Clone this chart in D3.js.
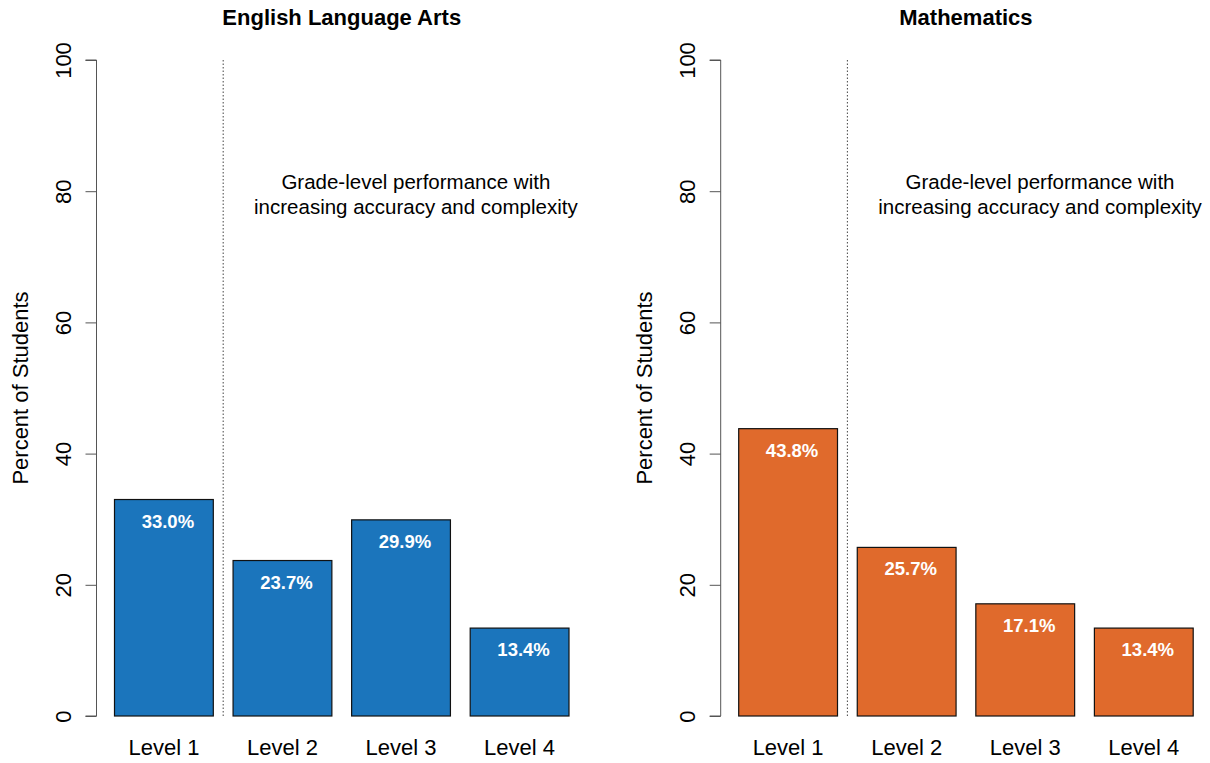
<!DOCTYPE html>
<html>
<head>
<meta charset="utf-8">
<script src="https://cdn.jsdelivr.net/npm/d3@7"></script>
<style>
  html, body { margin: 0; padding: 0; background: #fff; }
  svg { display: block; font-family: "Liberation Sans", Arial, sans-serif; }
</style>
</head>
<body>
<svg id="chart" width="1210" height="763"></svg>
<script>
// Performance level distribution by subject
const levels = ["Level 1", "Level 2", "Level 3", "Level 4"];
const elaValues = [33.0, 23.7, 29.9, 13.4];
const mathValues = [43.8, 25.7, 17.1, 13.4];
const subjects = ["English Language Arts", "Mathematics"];
const yTicks = [0, 20, 40, 60, 80, 100];
const noteLines = ["Grade-level performance with", "increasing accuracy and complexity"];

const panels = [
  { title: subjects[0], values: elaValues, color: "#1b75bc", offset: 0 },
  { title: subjects[1], values: mathValues, color: "#e06a2c", offset: 624.2 }
];

const svg = d3.select("#chart");

// Bar positions follow a barplot layout: width 1, gap 0.2
const barWidth = 1, gap = 0.2;
const barLeft = i => gap + i * (barWidth + gap);

const y = d3.scaleLinear().domain([0, 100]).range([716, 60]);

panels.forEach(p => {
  const x = d3.scaleLinear().domain([0.2, 4.8]).range([114.5 + p.offset, 569 + p.offset]);
  const g = svg.append("g");

  // Title
  g.append("text")
    .attr("x", (x(0.2) + x(4.8)) / 2)
    .attr("y", 25)
    .attr("text-anchor", "middle")
    .attr("font-weight", "bold")
    .attr("font-size", 22)
    .attr("fill", "#000")
    .text(p.title);

  // Y axis
  const axis = d3.axisLeft(y).tickValues(yTicks).tickSize(11).tickFormat(d3.format("d"));
  const ax = g.append("g")
    .attr("transform", `translate(${x(0.2) - 18},0)`)
    .call(axis);
  ax.select(".domain").attr("stroke", "#555").attr("d", `M-11,${y(0)}H0V${y(100)}H-11`);
  ax.selectAll(".tick line").attr("stroke", "#555");
  ax.selectAll(".tick text")
    .attr("font-size", 22)
    .attr("fill", "#000")
    .attr("font-family", "Liberation Sans, Arial, sans-serif")
    .attr("text-anchor", "middle")
    .attr("x", 0)
    .attr("y", 0)
    .attr("dy", "0.35em")
    .attr("transform", "translate(-33,0) rotate(-90)");

  // Y axis title
  g.append("text")
    .attr("transform", `translate(${x(0.2) - 94},${y(50)}) rotate(-90)`)
    .attr("text-anchor", "middle")
    .attr("dy", "0.35em")
    .attr("font-size", 22)
    .attr("fill", "#000")
    .text("Percent of Students");

  // Divider between level 1 and the rest
  g.append("line")
    .attr("x1", x(1.3)).attr("x2", x(1.3))
    .attr("y1", y(100)).attr("y2", y(0))
    .attr("stroke", "#444")
    .attr("stroke-width", 1)
    .attr("stroke-dasharray", "1.5,2");

  // Annotation
  const note = g.append("text")
    .attr("text-anchor", "middle")
    .attr("font-size", 20.5)
    .attr("fill", "#000");
  noteLines.forEach((line, i) => {
    note.append("tspan")
      .attr("x", x(3.25))
      .attr("y", 189 + i * 25)
      .text(line);
  });

  // Bars
  g.selectAll("rect.bar")
    .data(p.values)
    .join("rect")
    .attr("class", "bar")
    .attr("x", (d, i) => x(barLeft(i)))
    .attr("width", (d, i) => x(barLeft(i) + barWidth) - x(barLeft(i)))
    .attr("y", d => y(d))
    .attr("height", d => y(0) - y(d))
    .attr("fill", p.color)
    .attr("stroke", "#111")
    .attr("stroke-width", 1.2);

  // Value labels
  g.selectAll("text.val")
    .data(p.values)
    .join("text")
    .attr("class", "val")
    .attr("x", (d, i) => x(barLeft(i) + barWidth / 2) + 4)
    .attr("y", d => y(d) + 28)
    .attr("text-anchor", "middle")
    .attr("font-weight", "bold")
    .attr("font-size", 18.5)
    .attr("fill", "#fff")
    .text(d => d.toFixed(1) + "%");

  // Category labels
  g.selectAll("text.cat")
    .data(levels)
    .join("text")
    .attr("class", "cat")
    .attr("x", (d, i) => x(barLeft(i) + barWidth / 2))
    .attr("y", 755)
    .attr("text-anchor", "middle")
    .attr("font-size", 22)
    .attr("fill", "#000")
    .text(d => d);
});
</script>
</body>
</html>
